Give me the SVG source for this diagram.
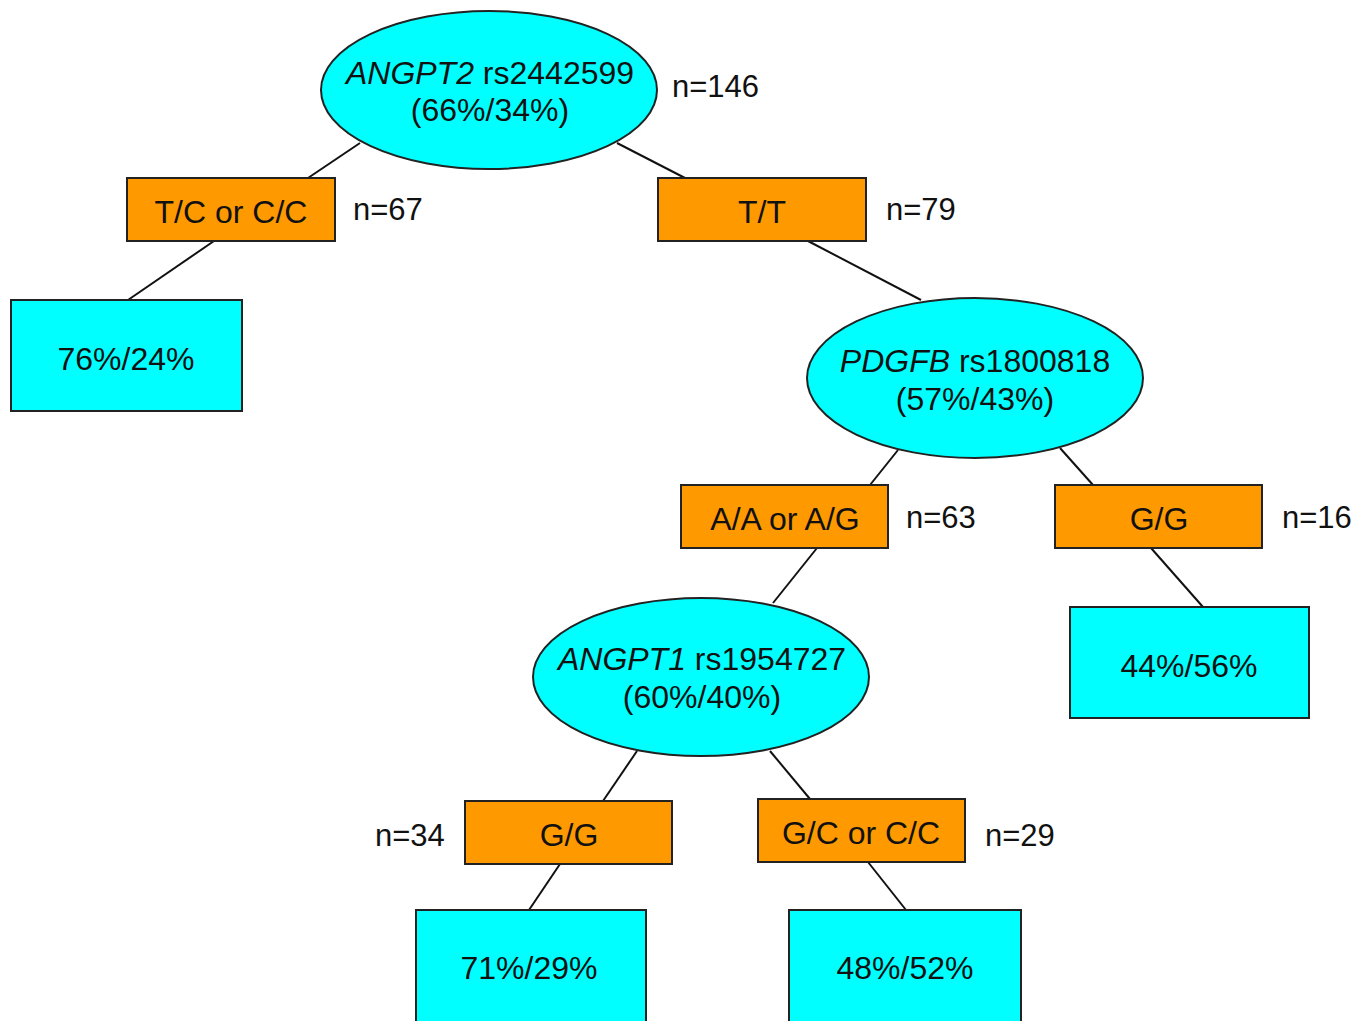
<svg xmlns="http://www.w3.org/2000/svg" width="1369" height="1021" viewBox="0 0 1369 1021">
<style>
.t{font-family:"Liberation Sans",Arial,sans-serif;font-size:32px;fill:#111;text-anchor:middle}
.n{font-family:"Liberation Sans",Arial,sans-serif;font-size:31px;fill:#111}
.cy{fill:#00FFFF;stroke:#222;stroke-width:2}
.or{fill:#FF9900;stroke:#222;stroke-width:2}
.ln{stroke:#111;stroke-width:2;fill:none}
</style>
<rect width="1369" height="1021" fill="#fff"/>
<g id="connectors">
<line class="ln" x1="360" y1="143" x2="308" y2="178"/>
<line class="ln" x1="617" y1="143" x2="685" y2="178"/>
<line class="ln" x1="214" y1="241" x2="128" y2="300"/>
<line class="ln" x1="808" y1="241" x2="921" y2="300"/>
<line class="ln" x1="898" y1="450" x2="870" y2="485"/>
<line class="ln" x1="1060" y1="448" x2="1093" y2="485"/>
<line class="ln" x1="817" y1="548" x2="773" y2="603"/>
<line class="ln" x1="1151" y1="548" x2="1203" y2="607"/>
<line class="ln" x1="637" y1="751" x2="603" y2="801"/>
<line class="ln" x1="770" y1="751" x2="810" y2="799"/>
<line class="ln" x1="560" y1="864" x2="529" y2="910"/>
<line class="ln" x1="868" y1="862" x2="906" y2="910"/>
</g>
<g id="root">
<ellipse class="cy" cx="489" cy="90" rx="168" ry="79"/>
<text class="t" x="490" y="84"><tspan font-style="italic">ANGPT2</tspan> rs2442599</text>
<text class="t" x="490" y="121">(66%/34%)</text>
<text class="n" x="672" y="97">n=146</text>
</g>
<g id="split1a">
<rect class="or" x="127" y="178" width="208" height="63"/>
<text class="t" x="231" y="223">T/C or C/C</text>
<text class="n" x="353" y="220">n=67</text>
</g>
<g id="split1b">
<rect class="or" x="658" y="178" width="208" height="63"/>
<text class="t" x="762" y="223">T/T</text>
<text class="n" x="886" y="220">n=79</text>
</g>
<g id="leaf1">
<rect class="cy" x="11" y="300" width="231" height="111"/>
<text class="t" x="126" y="370">76%/24%</text>
</g>
<g id="pdgfb">
<ellipse class="cy" cx="975" cy="378" rx="168" ry="80"/>
<text class="t" x="975" y="372"><tspan font-style="italic">PDGFB</tspan> rs1800818</text>
<text class="t" x="975" y="410">(57%/43%)</text>
</g>
<g id="split2a">
<rect class="or" x="681" y="485" width="207" height="63"/>
<text class="t" x="785" y="530">A/A or A/G</text>
<text class="n" x="906" y="528">n=63</text>
</g>
<g id="split2b">
<rect class="or" x="1055" y="485" width="207" height="63"/>
<text class="t" x="1159" y="530">G/G</text>
<text class="n" x="1282" y="528">n=16</text>
</g>
<g id="leaf2">
<rect class="cy" x="1070" y="607" width="239" height="111"/>
<text class="t" x="1189" y="677">44%/56%</text>
</g>
<g id="angpt1">
<ellipse class="cy" cx="701" cy="677" rx="168" ry="79"/>
<text class="t" x="702" y="670"><tspan font-style="italic">ANGPT1</tspan> rs1954727</text>
<text class="t" x="702" y="708">(60%/40%)</text>
</g>
<g id="split3a">
<rect class="or" x="465" y="801" width="207" height="63"/>
<text class="t" x="569" y="846">G/G</text>
<text class="n" x="375" y="846">n=34</text>
</g>
<g id="split3b">
<rect class="or" x="758" y="799" width="207" height="63"/>
<text class="t" x="861" y="844">G/C or C/C</text>
<text class="n" x="985" y="846">n=29</text>
</g>
<g id="leaf3">
<rect class="cy" x="416" y="910" width="230" height="120"/>
<text class="t" x="529" y="979">71%/29%</text>
</g>
<g id="leaf4">
<rect class="cy" x="789" y="910" width="232" height="120"/>
<text class="t" x="905" y="979">48%/52%</text>
</g>
</svg>
